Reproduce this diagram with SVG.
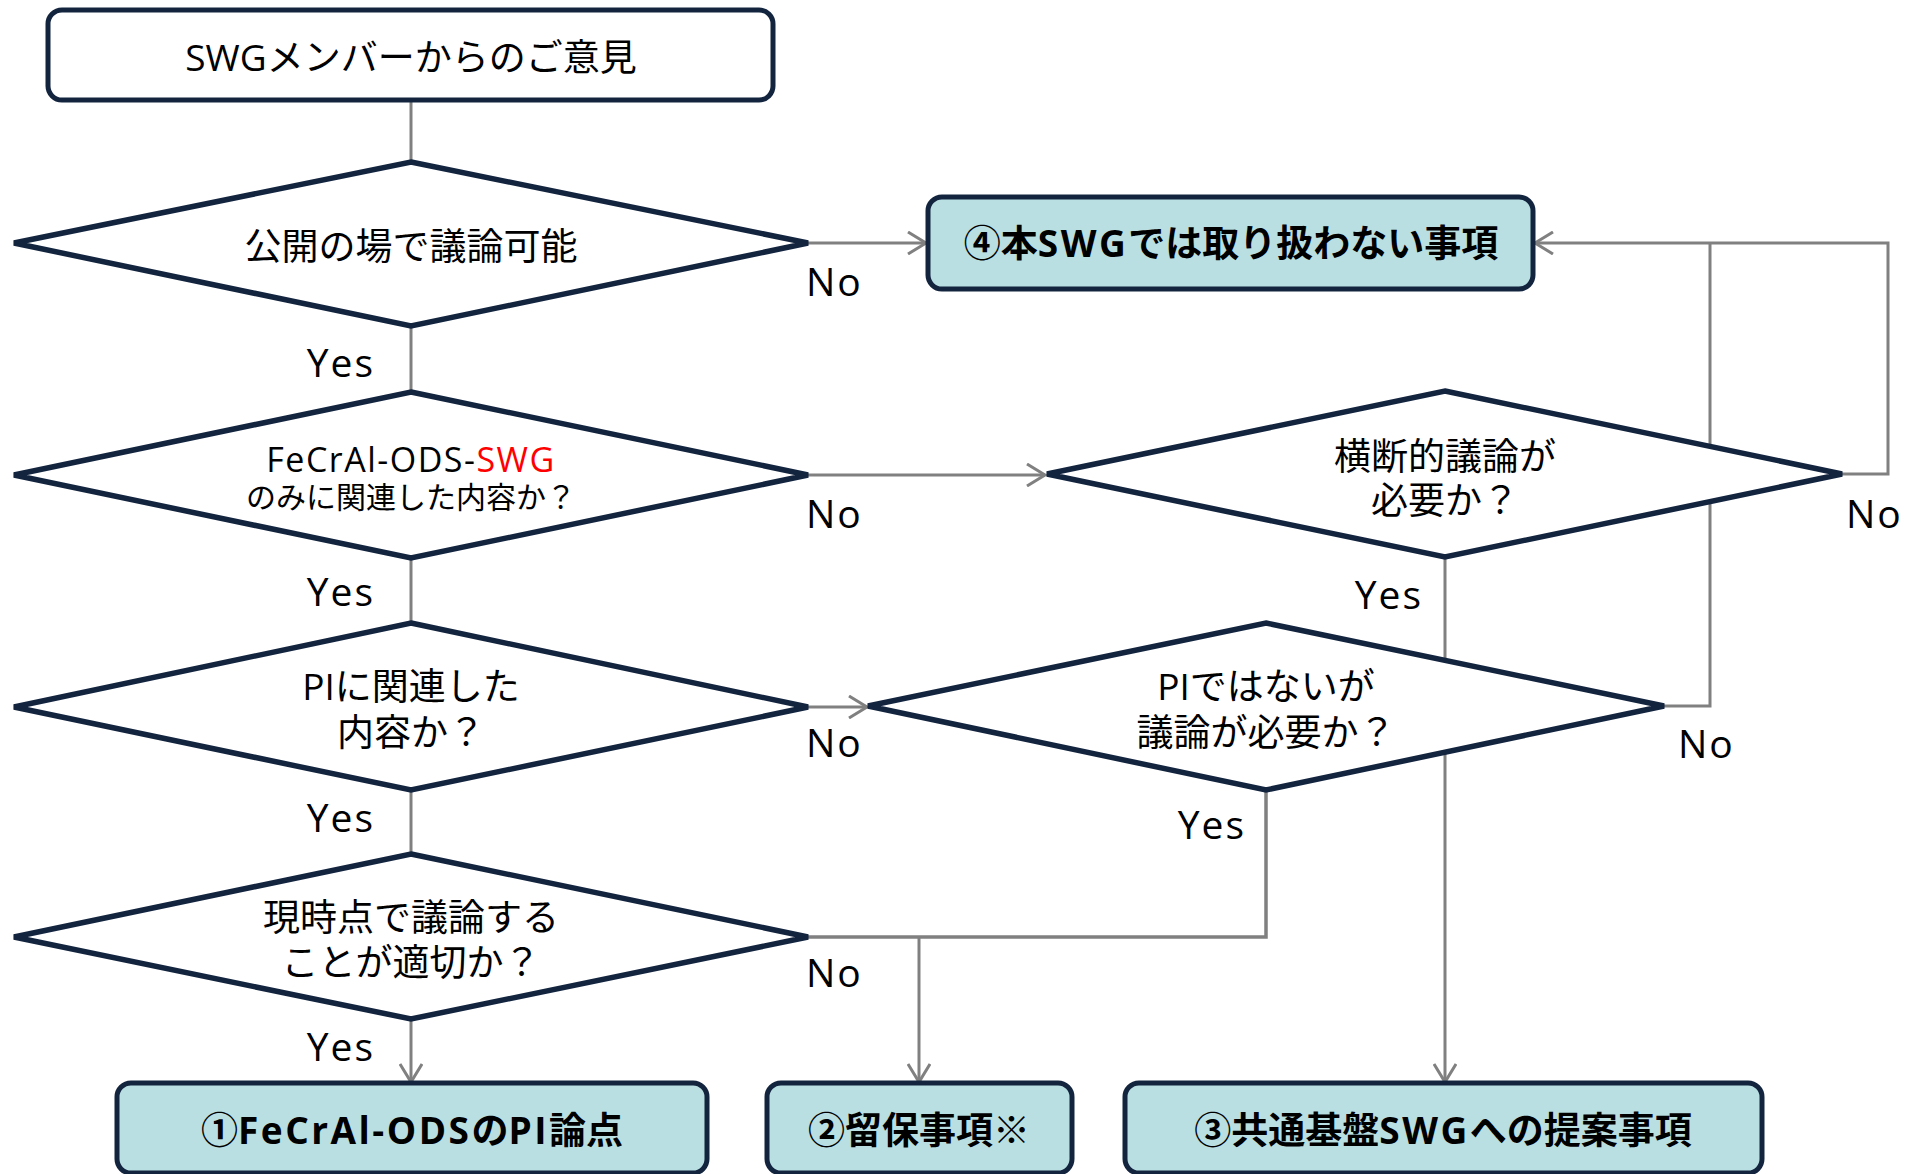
<svg xmlns="http://www.w3.org/2000/svg" width="1907" height="1174" viewBox="0 0 1907 1174">
<style>
.t{font-family:"Open Sans","Noto Sans CJK JP",sans-serif;font-size:37px;fill:#000}
.c{text-anchor:middle}
.b{font-weight:bold}
.s{font-size:30px}
.lb{font-size:39px;letter-spacing:2px}
.ls{letter-spacing:2.5px}
.dia{fill:#fff;stroke:#13243f;stroke-width:5.5;stroke-linejoin:miter}
.box{stroke:#13243f;stroke-width:5}
.res{fill:#b9dfe3}
.conn path{fill:none;stroke:#808080;stroke-width:3}
</style>
<defs>
<marker id="ah" markerWidth="24" markerHeight="24" viewBox="0 0 24 24" refX="21" refY="12" orient="auto" markerUnits="userSpaceOnUse">
<path d="M3,1 L21,12 L3,23" fill="none" stroke="#808080" stroke-width="3"/>
</marker>
</defs>
<rect width="1907" height="1174" fill="#fff"/>
<g class="conn" id="connectors">
<path d="M411,100 V162"/>
<path d="M411,327 V392"/>
<path d="M411,557 V623"/>
<path d="M411,790 V854"/>
<path d="M411,1019 V1082" marker-end="url(#ah)"/>
<path d="M808,243 H926" marker-end="url(#ah)"/>
<path d="M808,475 H1045" marker-end="url(#ah)"/>
<path d="M808,707 H867" marker-end="url(#ah)"/>
<path d="M1842,474 H1888 V243 H1535" marker-end="url(#ah)"/>
<path d="M1664,706 H1710 V243"/>
<path d="M1445,557 V1082" marker-end="url(#ah)"/>
<path d="M1266,790 V937 H808" style="stroke-width:3.5"/>
<path d="M919,937 V1082" marker-end="url(#ah)"/>
</g>
<g id="start">
<rect class="box" x="48" y="10" width="725" height="90" rx="14" fill="#fff"/>
<text class="t c" x="411" y="71">SWGメンバーからのご意見</text>
</g>
<g id="d1">
<polygon class="dia" points="411,162 808,243 411,326 14,243"/>
<text class="t c" x="411" y="260">公開の場で議論可能</text>
</g>
<g id="d2">
<polygon class="dia" points="411,392 808,475 411,558 14,475"/>
<text class="t c" x="411" y="472" style="font-size:34px;letter-spacing:1.5px">FeCrAl-ODS-<tspan fill="#ff0000">SWG</tspan></text>
<text class="t c s" x="411" y="508">のみに関連した内容か？</text>
</g>
<g id="d3">
<polygon class="dia" points="411,623 808,707 411,790 14,707"/>
<text class="t c" x="411" y="700">PIに関連した</text>
<text class="t c" x="411" y="746">内容か？</text>
</g>
<g id="d4">
<polygon class="dia" points="411,854 808,937 411,1019 14,937"/>
<text class="t c" x="411" y="931">現時点で議論する</text>
<text class="t c" x="411" y="976">ことが適切か？</text>
</g>
<g id="d5">
<polygon class="dia" points="1445,391 1842,474 1445,557 1047,474"/>
<text class="t c" x="1445" y="470">横断的議論が</text>
<text class="t c" x="1445" y="514">必要か？</text>
</g>
<g id="d6">
<polygon class="dia" points="1266,623 1664,706 1266,790 868,706"/>
<text class="t c" x="1266" y="700">PIではないが</text>
<text class="t c" x="1266" y="746">議論が必要か？</text>
</g>
<g id="r4">
<rect class="box res" x="928" y="197" width="605" height="92" rx="14"/>
<text class="t c b" x="1231" y="257">④本<tspan class="ls">SWG</tspan>では取り扱わない事項</text>
</g>
<g id="r1">
<rect class="box res" x="117" y="1083" width="590" height="90" rx="14"/>
<text class="t c b" x="412" y="1144">①<tspan class="ls">FeCrAl-ODS</tspan>の<tspan class="ls">PI</tspan>論点</text>
</g>
<g id="r2">
<rect class="box res" x="767" y="1083" width="305" height="90" rx="14"/>
<text class="t c b" x="919" y="1144">②留保事項※</text>
</g>
<g id="r3">
<rect class="box res" x="1125" y="1083" width="637" height="90" rx="14"/>
<text class="t c b" x="1443" y="1144">③共通基盤<tspan class="ls">SWG</tspan>への提案事項</text>
</g>
<g id="labels">
<text class="t lb" x="806" y="296">No</text>
<text class="t lb" x="806" y="528">No</text>
<text class="t lb" x="806" y="757">No</text>
<text class="t lb" x="806" y="987">No</text>
<text class="t lb" x="1846" y="528">No</text>
<text class="t lb" x="1678" y="758">No</text>
<text class="t lb" x="375" y="377" text-anchor="end">Yes</text>
<text class="t lb" x="375" y="606" text-anchor="end">Yes</text>
<text class="t lb" x="375" y="832" text-anchor="end">Yes</text>
<text class="t lb" x="375" y="1061" text-anchor="end">Yes</text>
<text class="t lb" x="1423" y="609" text-anchor="end">Yes</text>
<text class="t lb" x="1246" y="839" text-anchor="end">Yes</text>
</g>
</svg>
